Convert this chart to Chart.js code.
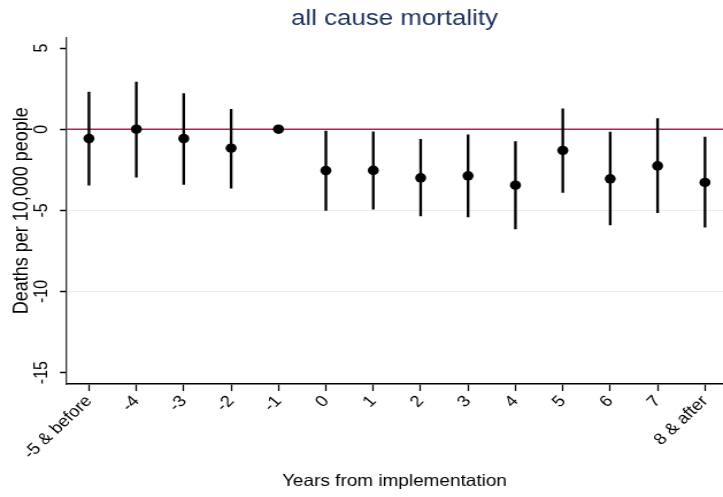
<!DOCTYPE html>
<html>
<head>
<meta charset="utf-8">
<script src="https://cdn.jsdelivr.net/npm/chart.js@4"></script>
<style>
  html, body { margin: 0; padding: 0; background: #fff; overflow: hidden; }
  /* the reference is a little wider than tall in its glyphs and dots */
  #wrap { width: 629px; height: 497px; transform: scaleX(1.1494); transform-origin: 0 0; }
</style>
</head>
<body>
<div id="wrap"><canvas id="mycanvas" width="629" height="497"></canvas></div>
<script>
var categories = ["-5 & before", "-4", "-3", "-2", "-1", "0", "1", "2", "3", "4", "5", "6", "7", "8 & after"];
var estimate = [-0.58, 0.0, -0.58, -1.17, 0.0, -2.55, -2.54, -3.0, -2.87, -3.45, -1.31, -3.06, -2.26, -3.28];
var ciLow = [-3.45, -2.95, -3.4, -3.63, null, -5.0, -4.92, -5.35, -5.4, -6.15, -3.9, -5.9, -5.15, -6.03];
var ciHigh = [2.28, 2.9, 2.2, 1.23, null, -0.12, -0.16, -0.62, -0.35, -0.76, 1.25, -0.18, 0.66, -0.49];
var yTicks = [-15, -10, -5, 0, 5];
var gridAt = [-10, -5];
var refValue = 0;

var xMin = -0.485, xMax = 13.38;
var yMin = -15.7, yMax = 5.65;

var points = [];
var bars = [];
for (var i = 0; i < categories.length; i++) {
  points.push({x: i, y: estimate[i]});
  if (ciLow[i] !== null) {
    bars.push({x: i, y: [ciLow[i], ciHigh[i]]});
  }
}

var ctx = document.getElementById("mycanvas");

var chart = new Chart(ctx, {
  type: 'scatter',
  data: {
    datasets: [
      {
        type: 'line',
        label: "zero",
        data: [{x: xMin, y: refValue}, {x: xMax, y: refValue}],
        borderColor: "#c8174a",
        borderWidth: 1.6,
        pointRadius: 0,
        fill: false,
        order: 3
      },
      {
        type: 'bar',
        label: "95% CI",
        data: bars,
        backgroundColor: "#000",
        barThickness: 1.7,
        grouped: false,
        order: 2
      },
      {
        type: 'scatter',
        label: "estimate",
        data: points,
        backgroundColor: "#000",
        borderWidth: 0,
        pointRadius: 4.8,
        order: 1
      }
    ]
  },
  options: {
    responsive: false,
    animation: false,
    layout: { padding: 0, autoPadding: false },
    plugins: {
      legend: { display: false },
      tooltip: { enabled: false },
      title: {
        display: true,
        text: "all cause mortality",
        color: "#1e325e",
        fullSize: false,
        font: { family: "Liberation Sans, Arial, sans-serif", size: 22.5, weight: 'normal' },
        padding: { top: 5.5, bottom: 5 }
      }
    },
    scales: {
      x: {
        type: 'linear',
        min: xMin,
        max: xMax,
        offset: false,
        afterBuildTicks: function(scale) {
          scale.ticks = categories.map(function(c, i) { return {value: i}; });
        },
        afterFit: function(scale) {
          scale.height = 113;
          scale.paddingLeft = 0;
          scale.paddingRight = 0;
        },
        ticks: {
          autoSkip: false,
          minRotation: 47,
          maxRotation: 47,
          padding: 1,
          color: "#000",
          font: { family: "Liberation Sans, Arial, sans-serif", size: 16 },
          callback: function(v) { return categories[v]; }
        },
        grid: {
          offset: false,
          drawOnChartArea: false,
          drawTicks: true,
          tickLength: 7,
          tickColor: "#000",
          tickWidth: 1.3
        },
        border: { display: true, color: "#000", width: 1.6 },
        title: {
          display: true,
          text: "Years from implementation",
          color: "#000",
          font: { family: "Liberation Sans, Arial, sans-serif", size: 16.5 },
          padding: { top: 4, bottom: 6 }
        }
      },
      y: {
        type: 'linear',
        min: yMin,
        max: yMax,
        afterBuildTicks: function(scale) {
          scale.ticks = yTicks.map(function(v) { return {value: v}; });
        },
        afterFit: function(scale) {
          scale.width = 57.4;
          scale.paddingTop = 0;
          scale.paddingBottom = 0;
        },
        ticks: {
          minRotation: 90,
          maxRotation: 90,
          crossAlign: 'center',
          padding: 4.1,
          color: "#000",
          font: { family: "Liberation Sans, Arial, sans-serif", size: 16 }
        },
        grid: {
          drawTicks: true,
          tickLength: 5.2,
          tickColor: "#000",
          tickWidth: 1.5,
          lineWidth: 1,
          color: function(c) {
            return (c.tick && gridAt.indexOf(c.tick.value) >= 0) ? "#e6eeef" : "rgba(0,0,0,0)";
          }
        },
        border: { display: true, color: "#333", width: 1.3 },
        title: {
          display: true,
          text: "Deaths per 10,000 people",
          color: "#000",
          font: { family: "Liberation Sans, Arial, sans-serif", size: 18 },
          padding: { top: 8.3, bottom: 0 }
        }
      }
    }
  }
});
</script>
</body>
</html>
